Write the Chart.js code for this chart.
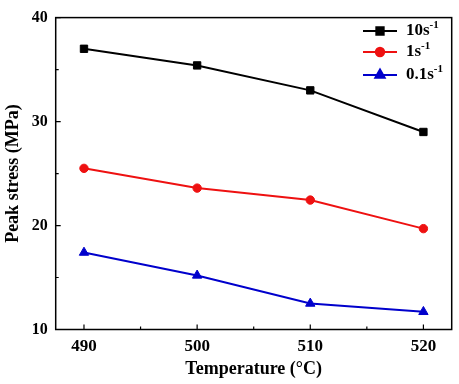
<!DOCTYPE html>
<html>
<head>
<meta charset="utf-8">
<script src="https://cdn.jsdelivr.net/npm/chart.js@4.4.1/dist/chart.umd.min.js"></script>
<style>
  html, body { margin: 0; padding: 0; background: #fff; }
  #wrap { width: 459px; height: 384px; }
</style>
</head>
<body>
<div id="wrap"><canvas id="chart"></canvas></div>
<script>
const temps = [490, 500, 510, 520];
const rate10 = [37.0, 35.4, 33.0, 29.0];
const rate1 = [25.5, 23.6, 22.45, 19.7];
const rate01 = [17.4, 15.2, 12.5, 11.7];
const xTicks = [490, 500, 510, 520];
const yTicks = [10, 20, 30, 40];

const FONT = "'Liberation Serif', 'Times New Roman', serif";

function pts(vals) {
  return temps.map((t, i) => ({ x: t, y: vals[i] }));
}

const series = [
  { name: "10s", sup: "-1", data: rate10, color: "#000000", style: "rect", r: 5.2 },
  { name: "1s", sup: "-1", data: rate1, color: "#ee1111", style: "circle", r: 4.2 },
  { name: "0.1s", sup: "-1", data: rate01, color: "#0000cc", style: "triangle", r: 5.4 },
];

// frame, inward ticks and legend
const decor = {
  id: "decor",
  afterDraw(chart) {
    const ctx = chart.ctx;
    const a = chart.chartArea;
    const xs = chart.scales.x, ys = chart.scales.y;
    ctx.save();
    ctx.strokeStyle = "#000";
    ctx.lineWidth = 1.5;
    ctx.strokeRect(a.left, a.top, a.right - a.left, a.bottom - a.top);
    ctx.lineWidth = 1.2;
    ctx.beginPath();
    for (let v = 490; v <= 520; v += 5) {
      const px = xs.getPixelForValue(v);
      const len = v % 10 === 0 ? 5 : 3;
      ctx.moveTo(px, a.bottom);
      ctx.lineTo(px, a.bottom - len);
    }
    for (let v = 10; v <= 40; v += 5) {
      const py = ys.getPixelForValue(v);
      const len = v % 10 === 0 ? 5 : 3;
      ctx.moveTo(a.left, py);
      ctx.lineTo(a.left + len, py);
    }
    ctx.stroke();

    // legend
    const x0 = 363, x1 = 397, tx = 406;
    const rows = [31, 52, 75];
    series.forEach((s, i) => {
      const y = rows[i];
      ctx.strokeStyle = s.color;
      ctx.lineWidth = 2;
      ctx.beginPath();
      ctx.moveTo(x0, y);
      ctx.lineTo(x1, y);
      ctx.stroke();
      ctx.fillStyle = s.color;
      Chart.helpers.drawPoint(ctx, { pointStyle: s.style, radius: s.r, borderWidth: 1 }, (x0 + x1) / 2, y);
      ctx.fill();
      ctx.fillStyle = "#000";
      ctx.textBaseline = "middle";
      ctx.textAlign = "left";
      ctx.font = "bold 17px " + FONT;
      ctx.fillText(s.name, tx, y);
      const w = ctx.measureText(s.name).width;
      ctx.font = "bold 11px " + FONT;
      ctx.fillText(s.sup, tx + w, y - 6);
    });
    ctx.restore();
  },
};

new Chart(document.getElementById("chart"), {
  type: "line",
  data: {
    datasets: series.map((s) => ({
      label: s.name + s.sup,
      data: pts(s.data),
      borderColor: s.color,
      backgroundColor: s.color,
      borderWidth: 2,
      pointStyle: s.style,
      pointRadius: s.r,
      pointBorderWidth: 1,
      tension: 0,
    })),
  },
  options: {
    responsive: true,
    maintainAspectRatio: false,
    animation: false,
    layout: { padding: { top: 10.5, right: 7.3, bottom: 0, left: 0 } },
    plugins: {
      legend: { display: false },
      tooltip: { enabled: false },
    },
    scales: {
      x: {
        type: "linear",
        min: 487.5,
        max: 522.5,
        afterBuildTicks: (s) => { s.ticks = xTicks.map((v) => ({ value: v })); },
        afterFit: (s) => { s.height = 54.5; },
        grid: { display: false, drawTicks: false },
        border: { display: false },
        ticks: {
          padding: 7,
          color: "#000",
          font: { family: FONT, size: 17, weight: "bold" },
        },
        title: {
          display: true,
          text: "Temperature (°C)",
          color: "#000",
          padding: { top: 0, bottom: 4 },
          font: { family: FONT, size: 18, weight: "bold" },
        },
      },
      y: {
        min: 10,
        max: 40,
        afterBuildTicks: (s) => { s.ticks = yTicks.map((v) => ({ value: v })); },
        afterFit: (s) => { s.width = 55.7; },
        grid: { display: false, drawTicks: false },
        border: { display: false },
        ticks: {
          padding: 8,
          color: "#000",
          font: { family: FONT, size: 16, weight: "bold" },
        },
        title: {
          display: true,
          text: "Peak stress (MPa)",
          color: "#000",
          padding: { top: 3, bottom: 0 },
          font: { family: FONT, size: 18, weight: "bold" },
        },
      },
    },
  },
  plugins: [decor],
});
</script>
</body>
</html>
